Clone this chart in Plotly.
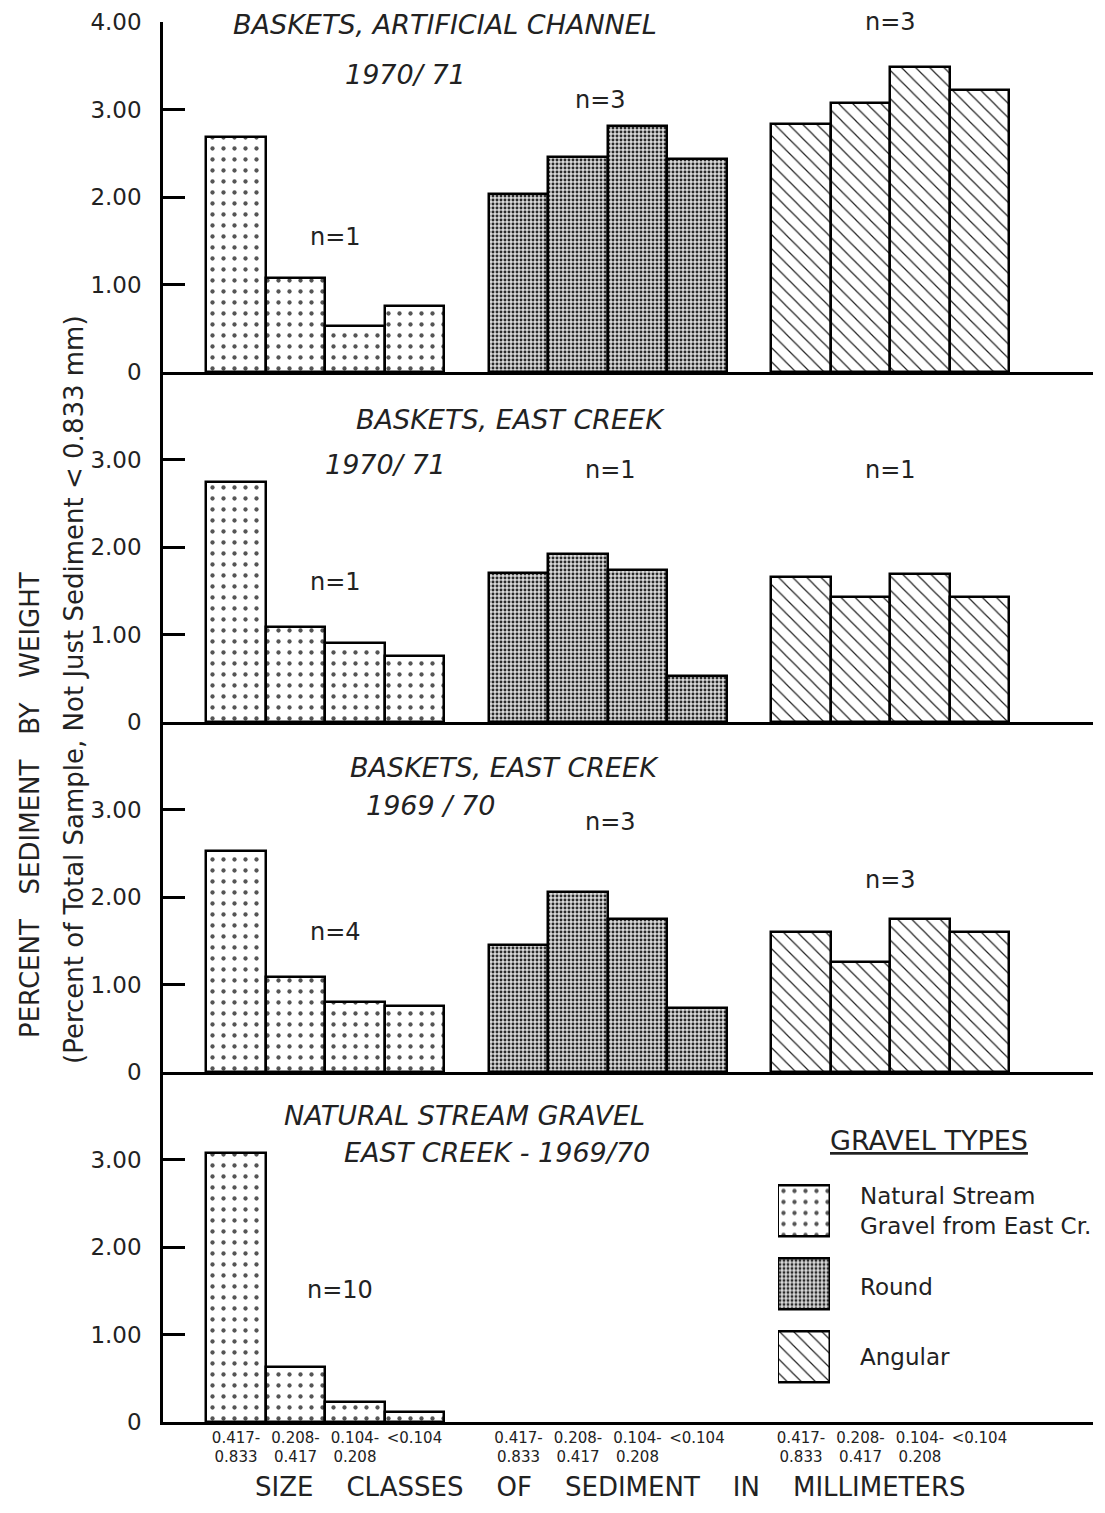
import plotly.graph_objects as go
from plotly.subplots import make_subplots

# size classes (mm) and gravel types
size_classes = ["0.417-<br>0.833", "0.208-<br>0.417", "0.104-<br>0.208", "&lt;0.104"]
gravel_types = ["Natural Stream Gravel from East Cr.", "Round", "Angular"]

panel_titles = [
    ("BASKETS, ARTIFICIAL CHANNEL", "1970/ 71"),
    ("BASKETS, EAST CREEK", "1970/ 71"),
    ("BASKETS, EAST CREEK", "1969 / 70"),
    ("NATURAL STREAM GRAVEL", "EAST CREEK - 1969/70"),
]

# percent sediment by weight, one list per gravel type per panel
natural = [
    [2.69, 1.07, 0.53, 0.76],
    [2.74, 1.09, 0.90, 0.76],
    [2.53, 1.09, 0.80, 0.75],
    [3.07, 0.63, 0.23, 0.11],
]
round_ = [
    [2.03, 2.46, 2.81, 2.44],
    [1.70, 1.92, 1.74, 0.53],
    [1.45, 2.06, 1.75, 0.73],
    None,
]
angular = [
    [2.84, 3.08, 3.49, 3.22],
    [1.66, 1.43, 1.69, 1.43],
    [1.60, 1.26, 1.75, 1.60],
    None,
]

# sample counts (per group, None = no bars)
n_labels = [
    ["n=1", "n=3", "n=3"],
    ["n=1", "n=1", "n=1"],
    ["n=4", "n=3", "n=3"],
    ["n=10", None, None],
]

FONT = "DejaVu Sans"
INK = "#222"
GROUP_STEP = 4.75

STYLES = [
    dict(color="white", pattern=dict(shape=".", fgcolor="#555", bgcolor="white",
                                     size=11, solidity=0.12, fillmode="replace")),
    dict(color="#cfcfcf", pattern=dict(shape=".", fgcolor="#2a2a2a", bgcolor="#dadada",
                                       size=4, solidity=0.42, fillmode="replace")),
    dict(color="white", pattern=dict(shape="\\", fgcolor="#222", bgcolor="white",
                                     size=10, solidity=0.12, fillmode="replace")),
]

fig = make_subplots(rows=4, cols=1, shared_xaxes=True, vertical_spacing=0)

for p in range(4):
    for g, series in enumerate([natural[p], round_[p], angular[p]]):
        if series is None:
            continue
        xs = [g * GROUP_STEP + i for i in range(len(series))]
        st = STYLES[g]
        fig.add_trace(
            go.Bar(
                x=xs, y=series, width=1.0, showlegend=False,
                marker=dict(color=st["color"], pattern=st["pattern"],
                            line=dict(color="black", width=2.5)),
                name=gravel_types[g],
            ),
            row=p + 1, col=1,
        )

# pixel helpers for plot area (page coords: left 163, right 1093, top 22, bottom 1422)
def px_x(px):
    return (px - 163) / 930


def px_y(py):
    return (1422 - py) / 1400


def note(text, x, y, size, **kw):
    d = dict(text=text, x=px_x(x), y=px_y(y), xref="paper", yref="paper",
             xanchor="center", yanchor="middle", showarrow=False,
             font=dict(family=FONT, size=size, color=INK))
    d.update(kw)
    return d


tick_x = []
tick_text = []
for g in range(3):
    for i, lab in enumerate(size_classes):
        tick_x.append(g * GROUP_STEP + i)
        tick_text.append(lab)

for p in range(4):
    r = p + 1
    fig.update_xaxes(
        range=[-1.228, 14.41], showline=True, linecolor="black", linewidth=2.5,
        showgrid=False, zeroline=False, ticks="", automargin=False,
        tickvals=tick_x, ticktext=tick_text,
        showticklabels=(r == 4), tickfont=dict(family=FONT, size=15, color=INK),
        row=r, col=1,
    )
    vals = [0, 1, 2, 3, 4] if r == 1 else [0, 1, 2, 3]
    fig.update_yaxes(
        range=[0, 4], showline=True, linecolor="black", linewidth=2.5,
        showgrid=False, zeroline=False, ticks="inside", ticklen=22, tickwidth=2.5,
        tickcolor="black", tickvals=vals, automargin=False,
        ticktext=["0" if v == 0 else f"{v:.2f}" for v in vals],
        tickfont=dict(family=FONT, size=23, color=INK), ticklabelstandoff=14,
        row=r, col=1,
    )

annotations = []
title_pos = [
    ((445, 25), (405, 75)),
    ((510, 420), (385, 465)),
    ((504, 767), (430, 805)),
    ((464, 1115), (497, 1152)),
]
for (t1, t2), ((x1, y1), (x2, y2)) in zip(panel_titles, title_pos):
    annotations.append(note(f"<i>{t1}</i>", x1, y1, 27))
    annotations.append(note(f"<i>{t2}</i>", x2, y2, 27))

n_pos = [
    [(335, 237), (600, 100), (890, 22)],
    [(335, 582), (610, 470), (890, 470)],
    [(335, 932), (610, 822), (890, 880)],
    [(340, 1290), None, None],
]
for labs, poss in zip(n_labels, n_pos):
    for lab, pos in zip(labs, poss):
        if lab is not None:
            annotations.append(note(lab, pos[0], pos[1], 24))

# axis titles
annotations.append(note("PERCENT   SEDIMENT   BY   WEIGHT", 30, 805, 26, textangle=-90))
annotations.append(note("(Percent of Total Sample, Not Just Sediment &lt; 0.833 mm)",
                        74, 690, 26, textangle=-90))
annotations.append(note("SIZE    CLASSES    OF    SEDIMENT    IN    MILLIMETERS",
                        610, 1487, 26))

# legend key drawn on a small inset axis
legend_labels = ["Natural Stream<br>Gravel from East Cr.", "Round", "Angular"]
for g in range(3):
    st = STYLES[g]
    fig.add_trace(go.Bar(
        x=[1], y=[legend_labels[g]], orientation="h", width=0.71, showlegend=False,
        marker=dict(color=st["color"], pattern=st["pattern"],
                    line=dict(color="black", width=2.5)),
        xaxis="x5", yaxis="y5",
    ))

fig.update_layout(
    xaxis5=dict(domain=[px_x(778), px_x(830)], range=[0, 1], anchor="y5",
                visible=False),
    yaxis5=dict(domain=[px_y(1393.5), px_y(1174.5)], anchor="x5", type="category",
                categoryorder="array", categoryarray=legend_labels[::-1],
                visible=False),
)
for lab, y in zip(legend_labels, [1211, 1287, 1357]):
    annotations.append(note(lab, 858, y, 23, xanchor="left", align="left"))
annotations.append(note("<u>GRAVEL TYPES</u>", 929, 1140, 27))

# the page body adds an 8px margin, so the figure is sized to fit inside it
fig.update_layout(
    width=1089, height=1497,
    margin=dict(l=155, r=4, t=14, b=83),
    paper_bgcolor="white", plot_bgcolor="white",
    bargap=0, annotations=annotations,
    font=dict(family=FONT, color=INK),
)

fig.write_html("out.html")
